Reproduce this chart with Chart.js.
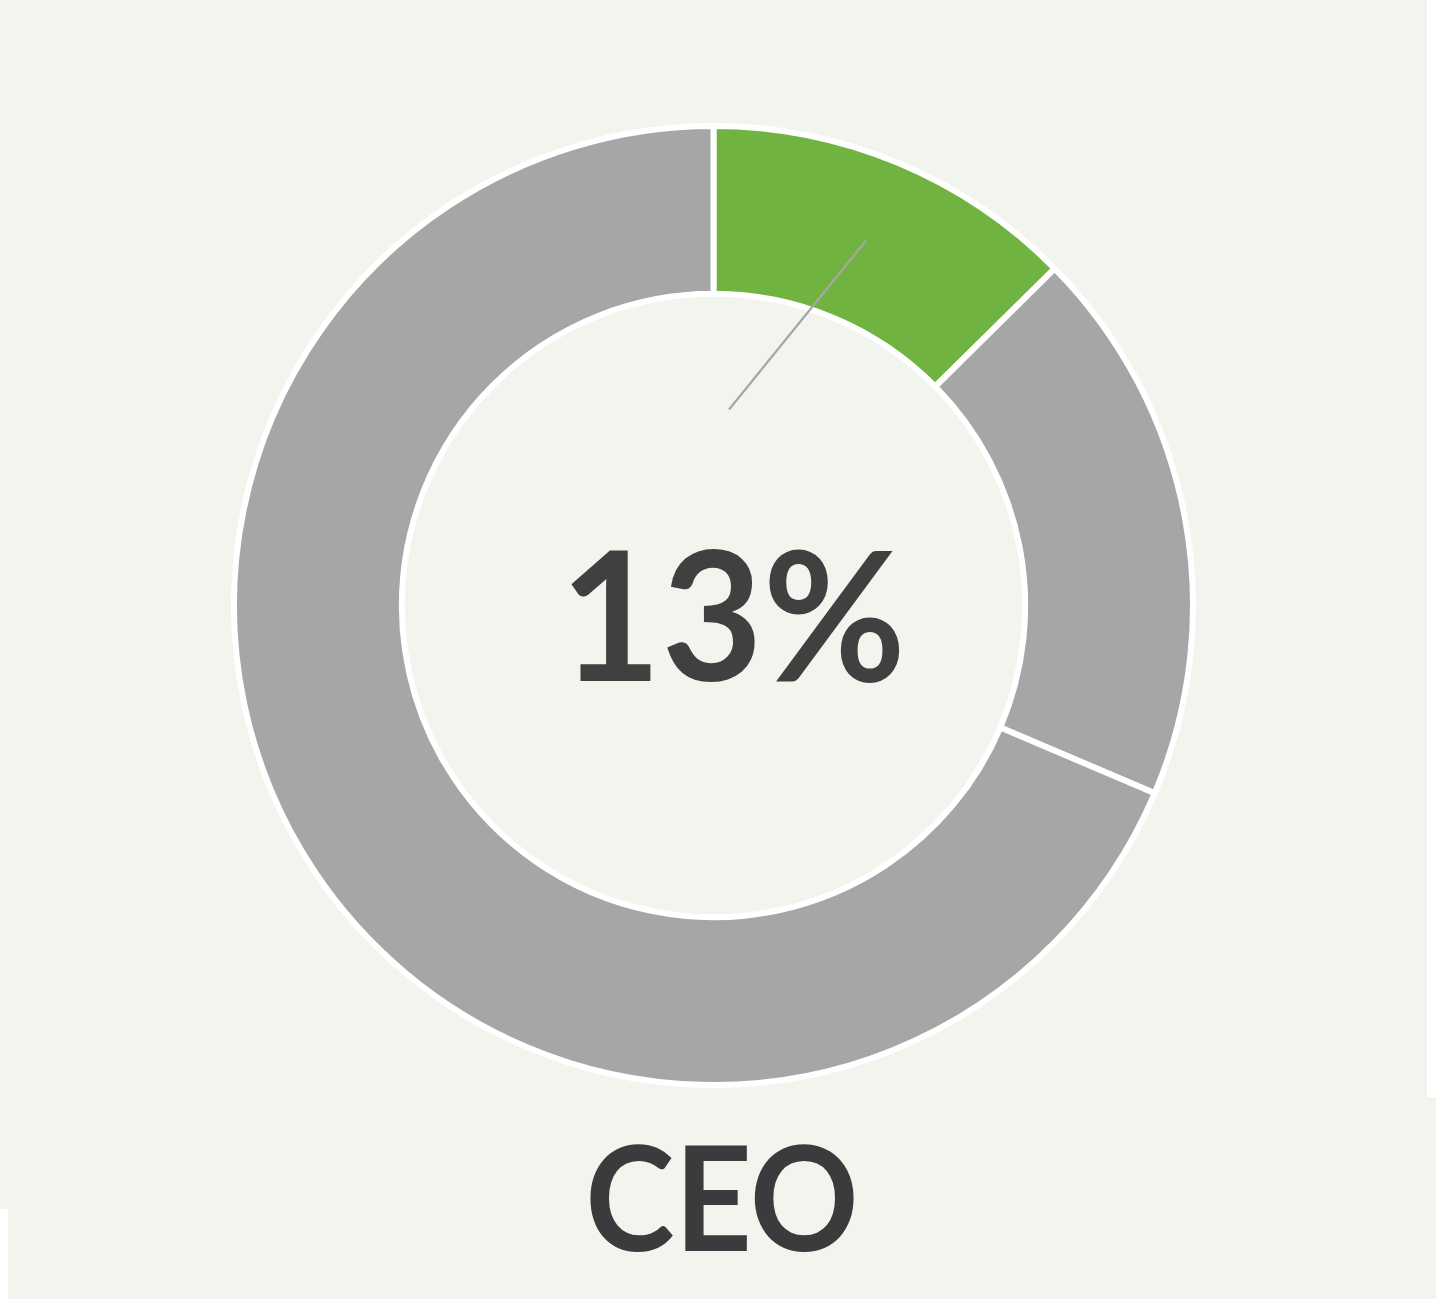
<!DOCTYPE html>
<html>
<head>
<meta charset="utf-8">
<script src="https://cdn.jsdelivr.net/npm/chart.js@4"></script>
<style>
  html, body { margin: 0; padding: 0; background: #ffffff; }
  body { width: 1436px; height: 1299px; position: relative; overflow: hidden; }
  .bg-a { position: absolute; left: 0; top: 0; width: 1427px; height: 1209px; background: #f2f4ee; }
  .bg-b { position: absolute; left: 8px; top: 1097px; width: 1428px; height: 202px; background: #f2f4ee; }
  #wrap { position: absolute; left: 231px; top: 123px; width: 965px; height: 965px; }
  .label { position: absolute; width: 1436px; text-align: center; font-family: Lato, "Open Sans", sans-serif; font-weight: 700; line-height: 1; }
  #pct { left: 15px; top: 521px; font-size: 181px; color: #404040; transform: scaleX(0.965); }
  #cat { left: 4px; top: 1123px; font-size: 145px; color: #3b3b3d; transform: scaleX(0.93); }
</style>
</head>
<body>
<div class="bg-a"></div>
<div class="bg-b"></div>
<div id="wrap"><canvas id="chart"></canvas></div>
<div id="pct" class="label"></div>
<div id="cat" class="label"></div>
<script>
// chart data
const category = "CEO";
const sliceLabels = ["CEO", "Other A", "Other B"];
const sliceValues = [12.6, 18.8, 68.6];
const sliceColors = ["#70b340", "#a6a6a6", "#a6a6a6"];

const total = sliceValues.reduce((a, b) => a + b, 0);
document.getElementById("pct").textContent = Math.round(sliceValues[0] / total * 100) + "%";
document.getElementById("cat").textContent = category;

// thin leader line from the first slice toward the centre
const leaderLine = {
    id: "leaderLine",
    afterDatasetsDraw(chart) {
        const arc = chart.getDatasetMeta(0).data[0];
        if (!arc) return;
        const p = arc.getProps(["x", "y", "startAngle", "endAngle", "innerRadius", "outerRadius"], true);
        const midA = (p.startAngle + p.endAngle) / 2;
        const midR = (p.innerRadius + p.outerRadius) / 2;
        const endA = p.startAngle + (p.endAngle - p.startAngle) * 0.1;
        const endR = p.outerRadius * 0.41;
        const ctx = chart.ctx;
        ctx.save();
        ctx.strokeStyle = "#a6a6a6";
        ctx.lineWidth = 2.2;
        ctx.beginPath();
        ctx.moveTo(p.x + Math.cos(midA) * midR, p.y + Math.sin(midA) * midR);
        ctx.lineTo(p.x + Math.cos(endA) * endR, p.y + Math.sin(endA) * endR);
        ctx.stroke();
        ctx.restore();
    }
};

new Chart(document.getElementById("chart"), {
    type: "doughnut",
    data: {
        labels: sliceLabels,
        datasets: [{
            data: sliceValues,
            backgroundColor: sliceColors,
            borderColor: "#ffffff",
            borderWidth: 6,
            hoverOffset: 0
        }]
    },
    options: {
        responsive: true,
        maintainAspectRatio: false,
        animation: false,
        cutout: "65%",
        layout: { padding: 0 },
        plugins: {
            legend: { display: false },
            tooltip: { enabled: false }
        }
    },
    plugins: [leaderLine]
});
</script>
</body>
</html>
